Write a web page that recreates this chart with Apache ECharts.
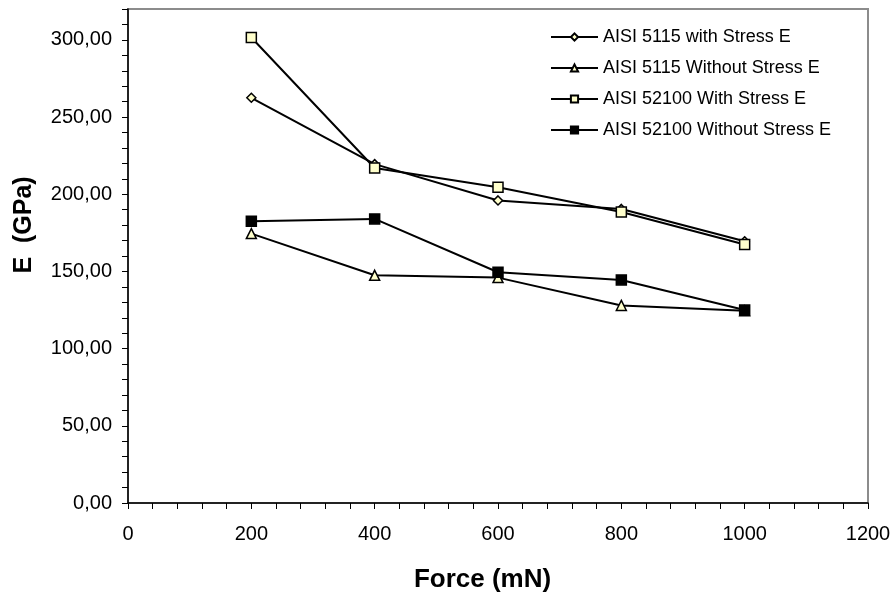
<!DOCTYPE html>
<html>
<head>
<meta charset="utf-8">
<script src="https://cdn.jsdelivr.net/npm/echarts@6/dist/echarts.min.js"></script>
<style>
  html, body { margin: 0; padding: 0; background: #fff; }
  #chart { width: 894px; height: 599px; }
</style>
</head>
<body>
<div id="chart"></div>
<script>
// force values (mN)
const forces = [200, 400, 600, 800, 1000];
// E (GPa) per series
const aisi5115With = [262.5, 219.5, 196, 190.5, 169.5];
const aisi5115Without = [174.5, 147.5, 146, 128, 124.5];
const aisi52100With = [301.5, 217, 204.5, 188.5, 167.5];
const aisi52100Without = [182.5, 184, 149.5, 144.5, 125];

const seriesNames = [
  "AISI 5115 with Stress E",
  "AISI 5115 Without Stress E",
  "AISI 52100 With Stress E",
  "AISI 52100 Without Stress E",
];

const pairs = (vals) => forces.map((f, i) => [f, vals[i]]);

const chart = echarts.init(document.getElementById("chart"));

function makeSeries(name, vals, symbol, size, fill) {
  return {
    name: name,
    type: "line",
    data: pairs(vals),
    symbol: symbol,
    symbolSize: size,
    showSymbol: true,
    lineStyle: { color: "#000", width: 2 },
    itemStyle: { color: fill, borderColor: "#000", borderWidth: 1.5 },
    emphasis: { disabled: true },
  };
}

chart.setOption({
  animation: false,
  textStyle: { fontFamily: "Liberation Sans, Arial, sans-serif", color: "#000" },
  grid: {
    left: 128,
    top: 9,
    right: 26,
    bottom: 96,
    show: true,
    borderColor: "#8c8c8c",
    borderWidth: 2,
  },
  legend: {
    orient: "vertical",
    left: 545,
    top: 23,
    itemWidth: 47,
    itemHeight: 9,
    itemGap: 13,
    textStyle: { fontSize: 18, color: "#000", fontFamily: "Liberation Sans, Arial, sans-serif" },
    data: seriesNames,
  },
  xAxis: {
    type: "value",
    min: 0,
    max: 1200,
    interval: 40,
    name: "Force (mN)",
    nameLocation: "middle",
    nameGap: 64,
    nameTextStyle: { fontSize: 26, fontWeight: "bold", color: "#000", padding: [0, 31, 0, 0] },
    axisLine: { lineStyle: { color: "#000", width: 1.5 } },
    axisTick: { show: true, length: 6, inside: false, lineStyle: { color: "#000" } },
    axisLabel: {
      fontSize: 20,
      color: "#000",
      margin: 21,
      formatter: (v) => (v % 200 === 0 ? String(v) : ""),
    },
    splitLine: { show: false },
  },
  yAxis: {
    type: "value",
    min: 0,
    max: 320,
    interval: 10,
    name: "E  (GPa)",
    nameLocation: "middle",
    nameGap: 91,
    nameTextStyle: { fontSize: 25, fontWeight: "bold", color: "#000", padding: [0, 0, 0, 62] },
    axisLine: { show: true, lineStyle: { color: "#000", width: 1.5 } },
    axisTick: { show: true, length: 6, lineStyle: { color: "#000" } },
    axisLabel: {
      fontSize: 20,
      color: "#000",
      margin: 16,
      formatter: (v) => (v % 50 === 0 && v <= 300 ? v.toFixed(2).replace(".", ",") : ""),
    },
    splitLine: { show: false },
  },
  series: [
    makeSeries(seriesNames[0], aisi5115With, "diamond", 9, "#ffffcc"),
    makeSeries(seriesNames[1], aisi5115Without, "triangle", 10, "#ffffcc"),
    makeSeries(seriesNames[2], aisi52100With, "rect", 10, "#ffffcc"),
    makeSeries(seriesNames[3], aisi52100Without, "rect", 10, "#000"),
  ],
});
</script>
</body>
</html>
